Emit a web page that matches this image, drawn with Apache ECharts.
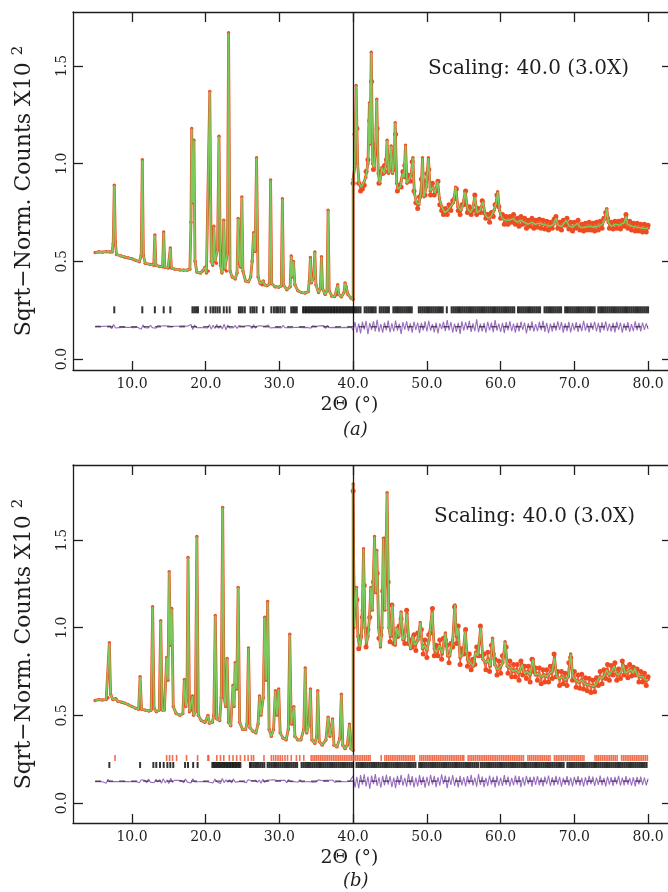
<!DOCTYPE html>
<html><head><meta charset="utf-8">
<script src="https://cdn.jsdelivr.net/npm/echarts@6/dist/echarts.min.js"></script>
<style>html,body{margin:0;padding:0;background:#fff}#c{width:668px;height:892px}</style>
</head><body><div id="c"></div>
<script>
// ---------- axis values ----------
const xTickValues = [10, 20, 30, 40, 50, 60, 70, 80];
const yTickValues = [0, 0.5, 1.0, 1.5];
const splitX = 40;
const scalingText = 'Scaling: 40.0 (3.0X)';

// ---------- panel (a) ----------
const profA_left = [[5.0,0.545],[5.5,0.549],[6.0,0.547],[6.5,0.55],[7.0,0.548],[7.3,0.548],[7.45,0.59],[7.6,0.89],[7.75,0.6],[7.9,0.535],[8.5,0.528],[9.0,0.522],[9.5,0.518],[10.0,0.513],[10.5,0.505],[11.0,0.498],[11.25,0.53],[11.4,1.02],[11.55,0.53],[11.8,0.49],[12.5,0.484],[12.95,0.48],[13.1,0.635],[13.25,0.48],[13.7,0.474],[14.15,0.472],[14.3,0.65],[14.45,0.47],[14.9,0.466],[15.05,0.468],[15.2,0.568],[15.35,0.466],[15.8,0.46],[16.5,0.456],[17.0,0.455],[17.5,0.455],[17.85,0.46],[18.0,0.7],[18.1,1.18],[18.25,0.8],[18.4,1.12],[18.55,0.5],[18.8,0.445],[19.3,0.44],[19.6,0.452],[19.9,0.47],[20.1,0.44],[20.35,0.45],[20.55,1.37],[20.75,0.5],[20.95,0.48],[21.1,0.68],[21.25,0.5],[21.45,0.49],[21.6,0.56],[21.8,1.14],[22.0,0.48],[22.2,0.44],[22.3,0.47],[22.45,0.71],[22.6,0.46],[22.8,0.45],[22.95,0.55],[23.1,1.67],[23.3,0.45],[23.6,0.42],[24.0,0.41],[24.25,0.44],[24.4,0.72],[24.55,0.5],[24.75,0.47],[24.9,0.83],[25.05,0.45],[25.4,0.40],[25.8,0.395],[26.1,0.42],[26.3,0.5],[26.5,0.646],[26.7,0.55],[26.9,1.03],[27.1,0.42],[27.4,0.385],[27.65,0.38],[27.8,0.40],[27.95,0.38],[28.3,0.375],[28.65,0.385],[28.8,0.916],[28.95,0.385],[29.4,0.37],[29.9,0.368],[30.25,0.375],[30.4,0.82],[30.55,0.38],[31.0,0.355],[31.45,0.37],[31.6,0.527],[31.75,0.42],[31.9,0.50],[32.1,0.38],[32.5,0.35],[33.0,0.34],[33.5,0.338],[33.9,0.345],[34.05,0.4],[34.2,0.52],[34.35,0.39],[34.65,0.42],[34.8,0.548],[34.95,0.38],[35.3,0.34],[35.55,0.36],[35.7,0.524],[35.85,0.36],[36.2,0.33],[36.45,0.35],[36.6,0.762],[36.75,0.35],[37.1,0.322],[37.5,0.32],[37.75,0.33],[37.9,0.38],[38.05,0.33],[38.4,0.318],[38.75,0.34],[38.9,0.39],[39.05,0.37],[39.3,0.33],[39.7,0.312],[40.0,0.305]];
const profA_right = [[40.0,0.92],[40.2,0.98],[40.4,1.40],[40.6,1.0],[40.8,0.9],[41.1,0.88],[41.4,0.9],[41.7,0.93],[42.0,1.0],[42.2,1.31],[42.3,1.1],[42.45,1.57],[42.65,1.0],[42.85,0.98],[43.05,1.1],[43.2,1.33],[43.4,0.95],[43.6,0.9],[43.9,0.98],[44.2,0.95],[44.45,1.0],[44.6,1.12],[44.8,0.95],[45.0,0.98],[45.15,1.09],[45.35,0.95],[45.55,1.0],[45.7,1.21],[45.9,0.9],[46.1,0.87],[46.4,0.88],[46.7,0.95],[46.9,0.93],[47.1,1.095],[47.3,0.9],[47.6,0.92],[47.9,0.95],[48.1,1.03],[48.3,0.85],[48.6,0.8],[48.9,0.79],[49.2,0.85],[49.4,1.03],[49.6,0.83],[49.9,0.88],[50.2,1.03],[50.45,0.86],[50.8,0.88],[51.1,0.85],[51.45,0.91],[51.7,0.82],[52.0,0.78],[52.4,0.75],[52.8,0.76],[53.2,0.78],[53.6,0.8],[53.9,0.88],[54.2,0.78],[54.6,0.76],[54.9,0.79],[55.2,0.856],[55.5,0.77],[55.9,0.75],[56.2,0.77],[56.5,0.83],[56.8,0.75],[57.2,0.76],[57.6,0.805],[57.9,0.74],[58.3,0.72],[58.7,0.73],[59.1,0.76],[59.4,0.8],[59.6,0.856],[59.85,0.76],[60.2,0.72],[60.7,0.71],[61.2,0.71],[61.7,0.72],[62.2,0.70],[62.7,0.71],[63.2,0.70],[63.7,0.69],[64.2,0.70],[64.7,0.69],[65.2,0.695],[65.7,0.69],[66.2,0.685],[66.7,0.68],[67.2,0.69],[67.5,0.72],[67.8,0.685],[68.3,0.68],[68.9,0.71],[69.3,0.68],[69.8,0.675],[70.4,0.695],[70.9,0.672],[71.5,0.675],[72.0,0.68],[72.6,0.675],[73.2,0.68],[73.8,0.69],[74.2,0.72],[74.4,0.77],[74.6,0.7],[75.0,0.68],[75.6,0.69],[76.2,0.685],[76.8,0.70],[77.0,0.73],[77.2,0.69],[77.8,0.68],[78.4,0.675],[79.0,0.672],[79.6,0.668],[80.0,0.67]];
// observed points right of the split, one every 0.25 deg from 40.0
const obsRightA = [0.90,1.15,1.18,0.90,0.86,0.87,0.89,0.96,1.02,1.22,1.42,0.97,1.05,1.18,0.90,0.96,0.95,0.99,1.02,0.96,
1.0,1.0,0.97,1.15,0.86,0.89,0.88,0.96,0.99,0.93,0.94,0.91,1.01,0.86,0.80,0.77,0.83,0.92,0.91,0.84,
0.95,0.97,0.84,0.90,0.84,0.86,0.91,0.79,0.76,0.74,0.77,0.74,0.79,0.76,0.81,0.82,0.87,0.76,0.74,0.79,
0.79,0.86,0.75,0.78,0.74,0.76,0.84,0.74,0.77,0.75,0.81,0.75,0.72,0.74,0.70,0.75,0.73,0.79,0.84,0.78,
0.72,0.74,0.69,0.73,0.69,0.73,0.70,0.74,0.69,0.72,0.68,0.73,0.69,0.72,0.67,0.71,0.68,0.72,0.67,0.71,
0.675,0.715,0.67,0.71,0.665,0.705,0.66,0.70,0.67,0.715,0.73,0.67,0.70,0.66,0.71,0.685,0.72,0.665,0.70,0.655,
0.70,0.67,0.71,0.66,0.69,0.655,0.695,0.66,0.70,0.66,0.695,0.655,0.70,0.66,0.705,0.67,0.72,0.75,0.72,0.67,
0.70,0.665,0.705,0.67,0.705,0.665,0.71,0.68,0.74,0.67,0.705,0.66,0.695,0.655,0.695,0.655,0.69,0.65,0.69,0.65,
0.685];
// difference curve, thousandths, one every 0.25 deg from 5.0
const diffA = [3,-2,4,-3,2,-4,3,-2,5,-10,12,-6,3,-4,2,-3,4,-2,3,-3,
2,-4,3,-2,4,-12,10,-5,3,-6,8,-4,3,-7,6,-3,4,-6,5,-3,
4,-3,2,-4,3,-2,4,-3,5,-4,3,-2,12,-14,9,-5,3,-4,6,-5,
4,-6,11,-12,8,-9,12,-8,6,-11,13,-15,9,-6,4,-5,7,-8,6,-4,
3,-4,5,-3,6,-8,10,-7,4,-3,5,-4,3,-7,9,-6,3,-4,2,-3,
4,-6,8,-5,3,-4,6,-5,3,-2,4,-3,2,-4,5,-3,6,-7,5,-4,
3,-4,5,-3,6,-9,8,-5,4,-3,2,-4,3,-5,4,-3,5,-4,3,-2,
-18,24,-30,16,-34,26,-14,30,-38,20,-16,28,-24,36,-26,14,-30,22,-18,32,
-28,18,-24,32,-20,16,-36,24,-14,28,-22,18,-30,26,-16,22,-32,20,-18,28,
-24,30,-20,14,-28,22,-34,18,-12,26,-22,34,-18,24,-30,16,-26,20,-36,28,
-20,24,-16,30,-26,18,-22,38,-28,16,-24,20,-30,26,-18,22,-28,34,-20,16,
-26,20,-32,24,-18,28,-22,16,-30,20,-24,26,-16,22,-34,18,-20,28,-24,14,
-22,26,-18,30,-26,20,-32,16,-24,22,-20,28,-16,24,-30,18,-22,26,-28,20,
-18,24,-26,16,-22,30,-20,18,-28,22,-16,26,-24,20,-30,24,-18,28,-22,16,
-24,20,-28,26,-16,22,-30,18,-20,24,-26,14,-22,28,-18,20,-24,22,-16,18,
-12];
const diffOffsetA = 0.165;
const tickLevelA = 0.252;
const ticksA = [7.6,11.4,13.1,14.3,15.2,18.2,18.45,18.7,18.95,20.0,20.65,21.0,21.3,21.6,21.9,22.45,22.85,23.25,24.5,24.75,25.0,25.3,26.07,26.35,26.6,26.9,27.8,28.9,29.25,29.55,29.8,30.1,30.4,30.7,31.6,31.85,32.1,32.35,33.2,33.4,33.6,33.8,34.0,34.2,34.4,34.6,34.8,35.0,35.2,35.4,35.6,35.8,36.0,36.2,36.4,36.6,36.8,37.0,37.2,37.4,37.6,37.8,38.0,38.2,38.4,38.6,38.8,39.0,39.2,39.4,39.6,39.8,40.0,
40.25,40.5,40.75,41.0,41.55,41.8,42.05,42.3,42.55,42.8,43.05,43.6,43.85,44.1,44.35,44.6,44.85,45.45,45.7,45.95,46.2,46.45,46.7,46.95,47.2,47.45,47.7,47.95,48.9,49.15,49.4,49.65,49.9,50.15,50.4,50.65,50.9,51.15,51.4,51.65,51.9,52.15,52.7,53.35,53.6,53.85,54.1,54.35,54.6,54.85,55.1,55.35,55.6,55.85,56.1,56.35,56.6,56.85,57.1,57.35,57.6,57.85,58.1,58.35,58.6,58.85,59.1,59.35,59.6,59.85,60.1,60.35,60.6,60.85,61.1,61.35,61.6,61.85,62.35,62.6,62.85,63.1,63.35,63.6,63.85,64.1,64.35,64.6,64.85,65.1,65.35,65.95,66.2,66.45,66.7,66.95,67.2,67.45,67.7,67.95,68.2,68.75,69.0,69.25,69.5,69.75,70.0,70.25,70.5,70.75,71.0,71.25,71.5,71.75,72.0,72.25,72.5,72.75,73.25,73.5,73.75,74.0,74.25,74.5,74.75,75.0,75.25,75.5,75.75,76.0,76.25,76.5,76.75,77.0,77.25,77.5,77.75,78.0,78.25,78.5,78.75,79.0,79.25,79.5,79.75,80.0];

// ---------- panel (b) ----------
const profB_left = [[5.0,0.585],[5.5,0.59],[6.0,0.588],[6.5,0.59],[6.75,0.60],[6.93,0.914],[7.1,0.62],[7.4,0.59],[7.8,0.595],[8.1,0.58],[8.6,0.575],[9.0,0.57],[9.5,0.56],[10.0,0.55],[10.5,0.54],[10.9,0.535],[11.1,0.72],[11.3,0.535],[11.8,0.53],[12.3,0.525],[12.6,0.53],[12.8,1.12],[13.0,0.54],[13.3,0.52],[13.7,0.53],[13.9,1.04],[14.1,0.53],[14.4,0.53],[14.7,0.83],[14.88,0.7],[15.05,1.32],[15.2,0.9],[15.4,1.11],[15.6,0.55],[16.0,0.51],[16.5,0.5],[16.9,0.51],[17.1,0.705],[17.3,0.55],[17.45,0.6],[17.6,1.40],[17.8,0.52],[18.05,0.53],[18.2,0.61],[18.35,0.5],[18.6,0.52],[18.8,1.52],[19.0,0.5],[19.4,0.47],[19.9,0.46],[20.3,0.5],[20.5,0.455],[20.9,0.46],[21.1,0.5],[21.3,1.07],[21.5,0.48],[21.9,0.47],[22.1,0.6],[22.3,1.686],[22.5,0.6],[22.7,0.55],[22.9,0.825],[23.1,0.46],[23.4,0.44],[23.7,0.67],[23.85,0.55],[24.0,0.8],[24.2,0.65],[24.4,1.23],[24.6,0.46],[25.0,0.42],[25.4,0.42],[25.6,0.45],[25.8,0.885],[26.0,0.43],[26.4,0.41],[26.8,0.40],[27.1,0.45],[27.3,0.61],[27.5,0.5],[27.8,0.6],[28.0,1.06],[28.2,0.7],[28.4,1.15],[28.6,0.42],[28.9,0.38],[29.2,0.42],[29.45,0.64],[29.65,0.5],[29.9,0.65],[30.1,0.4],[30.5,0.37],[30.9,0.36],[31.2,0.42],[31.4,0.963],[31.6,0.45],[31.8,0.45],[31.95,0.55],[32.1,0.38],[32.5,0.36],[32.9,0.36],[33.3,0.42],[33.5,0.77],[33.7,0.4],[34.0,0.45],[34.2,0.65],[34.4,0.36],[34.8,0.34],[35.05,0.38],[35.2,0.64],[35.4,0.35],[35.8,0.33],[36.3,0.36],[36.6,0.49],[36.85,0.38],[37.2,0.48],[37.4,0.33],[37.8,0.32],[38.2,0.37],[38.4,0.62],[38.6,0.33],[38.9,0.31],[39.2,0.33],[39.5,0.45],[39.7,0.31],[40.0,0.30]];
const profB_right = [[40.0,1.82],[40.1,1.0],[40.25,1.15],[40.45,1.23],[40.65,0.95],[40.9,0.89],[41.1,0.95],[41.25,1.1],[41.4,1.45],[41.6,1.0],[41.8,0.91],[42.0,0.95],[42.2,1.05],[42.4,1.23],[42.6,1.1],[42.9,1.52],[43.05,1.2],[43.2,1.44],[43.45,1.0],[43.7,0.89],[43.9,1.0],[44.1,1.51],[44.3,1.1],[44.6,1.77],[44.85,1.0],[45.05,0.95],[45.3,1.13],[45.5,0.95],[45.7,0.9],[45.95,1.0],[46.2,0.95],[46.5,1.09],[46.75,0.93],[47.0,0.95],[47.3,1.08],[47.55,0.92],[47.8,0.88],[48.1,0.95],[48.4,0.9],[48.8,0.93],[49.1,1.03],[49.4,0.88],[49.7,0.9],[50.0,0.87],[50.3,0.93],[50.7,1.09],[51.0,0.88],[51.3,0.86],[51.7,0.9],[52.1,0.85],[52.5,0.97],[52.8,0.84],[53.1,0.84],[53.5,0.93],[53.8,1.13],[54.0,0.95],[54.2,1.0],[54.5,0.83],[54.9,0.85],[55.2,0.98],[55.5,0.82],[55.9,0.8],[56.3,0.78],[56.6,0.86],[56.9,0.84],[57.3,1.0],[57.6,0.82],[58.0,0.8],[58.3,0.82],[58.6,0.78],[58.9,0.94],[59.2,0.79],[59.6,0.76],[60.0,0.78],[60.3,0.8],[60.6,0.92],[60.9,0.78],[61.3,0.77],[61.7,0.75],[62.1,0.76],[62.5,0.74],[62.9,0.79],[63.2,0.74],[63.6,0.75],[64.0,0.73],[64.4,0.82],[64.7,0.73],[65.1,0.74],[65.5,0.72],[65.9,0.73],[66.3,0.72],[66.7,0.74],[67.0,0.75],[67.3,0.83],[67.6,0.72],[68.0,0.71],[68.4,0.72],[68.8,0.7],[69.2,0.72],[69.5,0.85],[69.8,0.72],[70.2,0.7],[70.6,0.69],[71.0,0.7],[71.4,0.68],[71.8,0.675],[72.2,0.67],[72.6,0.665],[73.0,0.68],[73.4,0.72],[73.8,0.71],[74.1,0.73],[74.4,0.76],[74.7,0.73],[75.0,0.75],[75.4,0.78],[75.7,0.74],[76.0,0.73],[76.3,0.75],[76.6,0.79],[76.9,0.74],[77.3,0.75],[77.7,0.76],[78.0,0.74],[78.2,0.77],[78.5,0.73],[78.9,0.72],[79.3,0.72],[79.7,0.70],[80.0,0.705]];
const obsRightB = [1.78,1.17,1.16,0.88,0.95,1.06,1.24,0.89,0.99,1.06,1.21,1.26,1.34,1.31,0.94,0.96,1.21,1.24,1.51,1.26,
0.92,1.13,0.91,0.96,0.95,1.01,1.05,0.97,0.91,1.10,0.91,0.93,0.89,0.96,0.87,0.97,0.96,0.99,0.85,0.93,
0.83,0.96,0.97,1.11,0.84,0.90,0.84,0.93,0.82,0.94,0.93,0.90,0.80,0.91,0.89,1.12,0.91,1.01,0.79,0.88,
0.85,0.99,0.78,0.85,0.76,0.82,0.79,0.89,0.84,1.01,0.84,0.85,0.76,0.86,0.75,0.90,0.85,0.82,0.73,0.81,
0.74,0.84,0.84,0.89,0.74,0.81,0.72,0.79,0.72,0.79,0.70,0.81,0.73,0.78,0.71,0.78,0.69,0.82,0.75,0.77,
0.70,0.77,0.68,0.76,0.69,0.76,0.69,0.78,0.71,0.85,0.72,0.75,0.67,0.75,0.68,0.74,0.67,0.80,0.83,0.70,
0.75,0.66,0.73,0.655,0.735,0.65,0.715,0.64,0.71,0.63,0.70,0.635,0.715,0.67,0.75,0.68,0.76,0.71,0.79,0.70,
0.785,0.73,0.80,0.70,0.765,0.71,0.81,0.73,0.775,0.715,0.79,0.725,0.775,0.73,0.765,0.69,0.75,0.69,0.74,0.67,
0.72];
const diffB = [-3,4,-2,3,-4,2,-12,10,-4,3,-2,4,-3,2,-4,3,-2,4,-3,2,
-4,3,-2,5,-9,8,-3,4,-10,12,-6,4,-9,10,-5,8,-12,14,-10,6,
-14,16,-8,4,-3,5,-4,3,-10,12,-6,4,-11,13,-5,3,-4,2,-3,4,
-2,5,-7,4,-10,12,-4,6,-14,15,-9,7,-6,8,-11,12,-6,4,-3,5,
-4,6,-9,8,-3,2,-4,5,-7,6,-12,11,-8,4,-3,6,-5,7,-4,3,
-2,4,-3,5,-10,9,-4,3,-2,4,-7,8,-5,6,-4,3,-2,5,-6,4,
-5,7,-4,3,-2,4,-3,5,-4,6,-7,3,-2,4,-3,5,-4,3,-2,4,
30,-36,24,-42,34,-20,38,-30,26,-44,32,-18,40,-28,22,-38,30,-24,36,-20,
28,-34,20,-40,30,-22,36,-26,18,-32,42,-24,28,-36,20,-30,34,-22,26,-38,
24,-28,36,-20,30,-34,22,-26,38,-18,32,-40,26,-22,34,-28,20,-36,30,-24,
22,-30,28,-18,36,-26,20,-32,40,-22,26,-34,18,-28,32,-20,24,-36,30,-26,
20,-28,34,-22,26,-30,18,-24,32,-20,28,-34,22,-26,30,-18,24,-32,26,-22,
28,-24,20,-30,26,-18,32,-28,22,-26,30,-20,24,-32,18,-22,28,-26,20,-30,
24,-20,28,-26,18,-32,22,-24,30,-18,26,-28,20,-22,32,-24,18,-30,26,-20,
22,-28,24,-18,30,-26,20,-24,28,-20,18,-26,22,-30,24,-18,26,-22,20,-24,
14];
const diffOffsetB = 0.125;
const tickLevelB1 = 0.257; // second phase (red)
const tickLevelB2 = 0.217; // first phase (black)
const ticksB_red = [7.7,14.7,15.1,15.5,16.05,17.4,18.9,20.3,20.4,21.5,22.0,22.45,23.2,23.7,24.2,24.7,25.3,25.75,26.2,26.5,27.9,28.9,29.2,29.5,29.8,30.1,30.4,30.75,31.1,31.6,32.3,32.75,33.3,34.3,34.55,34.8,35.05,35.3,35.55,35.8,36.05,36.3,36.55,36.8,37.05,37.3,37.55,37.8,38.05,38.3,38.55,38.8,39.05,39.3,39.55,39.8,
40.05,40.3,40.55,40.8,41.05,41.3,41.55,41.8,42.05,42.3,43.8,44.3,44.55,44.8,45.05,45.3,45.55,45.8,46.05,46.3,46.55,46.8,47.05,47.3,47.55,47.8,48.05,48.3,49.05,49.3,49.55,49.8,50.05,50.3,50.55,50.8,51.05,51.3,51.55,51.8,52.05,52.3,52.55,52.8,53.05,53.3,53.55,53.8,54.05,54.3,54.55,54.8,55.0,55.6,55.85,56.1,56.35,56.6,56.85,57.1,57.35,57.6,57.85,58.1,58.35,58.6,58.85,59.1,59.35,59.6,59.85,60.1,60.35,60.6,60.85,61.1,61.35,61.6,61.85,62.1,62.35,62.6,62.85,63.1,63.7,63.95,64.2,64.45,64.7,64.95,65.2,65.45,65.7,65.95,66.2,66.45,66.7,67.3,67.55,67.8,68.05,68.3,68.55,68.8,69.05,69.3,69.55,69.8,70.05,70.3,70.55,70.8,71.05,71.3,72.8,73.05,73.3,73.55,73.8,74.05,74.3,74.55,74.8,75.05,75.3,75.55,75.8,76.4,76.65,76.9,77.15,77.4,77.65,77.9,78.15,78.4,78.65,78.9,79.15,79.4,79.65,79.9];
const ticksB_black = [6.93,11.1,12.9,13.3,13.8,14.3,14.8,15.2,15.6,17.2,17.6,18.3,18.9,20.9,21.1,21.3,21.5,21.7,21.9,22.1,22.3,22.5,22.7,22.9,23.1,23.3,23.5,23.7,23.9,24.1,24.3,24.5,24.7,26.0,26.2,26.45,26.7,26.95,27.2,27.45,27.7,27.95,28.4,28.65,28.9,29.15,29.4,29.65,29.9,30.15,30.4,30.65,30.9,31.15,31.4,31.65,31.9,32.15,32.4,33.0,33.25,33.5,33.75,34.0,34.25,34.5,34.75,35.0,35.25,35.5,35.75,36.0,36.25,36.5,36.75,37.0,37.25,37.5,37.75,38.0,38.25,38.5,38.75,39.0,39.25,39.5,39.75,
40.0,40.45,40.7,40.95,41.2,41.45,41.7,41.95,42.2,42.45,42.7,42.95,43.2,43.45,43.7,43.95,44.2,44.45,44.7,44.95,45.2,45.45,45.7,45.95,46.2,46.45,46.7,46.95,47.2,47.45,47.7,47.95,48.2,48.45,48.95,49.2,49.45,49.7,49.95,50.2,50.45,50.7,50.95,51.2,51.45,51.7,51.95,52.2,52.45,52.7,52.95,53.2,53.45,53.7,53.95,54.2,54.45,54.7,54.95,55.2,55.45,55.7,55.95,56.2,56.45,56.7,56.95,57.3,57.55,57.8,58.05,58.3,58.55,58.8,59.05,59.3,59.55,59.8,60.05,60.3,60.55,60.8,61.05,61.3,61.55,61.8,62.05,62.3,62.55,62.8,63.05,63.3,63.55,63.8,64.05,64.3,64.55,64.8,65.05,65.3,65.55,65.8,66.05,66.3,66.55,66.8,67.05,67.3,67.55,67.8,68.05,68.3,68.55,69.05,69.3,69.55,69.8,70.05,70.3,70.55,70.8,71.05,71.3,71.55,71.8,72.05,72.3,72.55,72.8,73.05,73.3,73.55,73.8,74.05,74.3,74.55,74.8,75.05,75.3,75.55,75.8,76.05,76.3,76.55,76.8,77.05,77.3,77.55,77.8,78.05,78.3,78.55,78.8,79.05,79.3,79.55,79.8];

// sampling of the regularly spaced arrays
const obsStart = 40, obsStep = 0.25;
const diffStart = 5, diffStep = 0.25, diffEnd = 80;

// ---------- styling ----------
const FONT = 'DejaVu Serif';
const INK = '#1e1e1e';
const RED = '#ef4b22';
const GREEN = '#7cca5c';
const PURPLE = '#9a6cc2';

const X_MIN = 2.0, X_MAX = 82.7;
const Y_A = [-0.056, 1.776];
const Y_B = [-0.114, 1.928];

function xAxesFor(gi) {
  const line = {show: true, onZero: false, lineStyle: {color: INK, width: 1.3}};
  return [
    {type: 'value', gridIndex: gi, position: 'bottom', min: X_MIN, max: X_MAX,
     splitLine: {show: false}, axisLine: line,
     axisTick: {show: true, inside: true, length: 9, customValues: xTickValues, lineStyle: {color: INK, width: 1.3}},
     axisLabel: {show: true, customValues: xTickValues, formatter: v => v.toFixed(1), fontFamily: FONT, fontSize: 14, color: INK, margin: 7},
     name: '2\u0398 (\u00b0)', nameLocation: 'middle', nameGap: 26,
     nameTextStyle: {fontFamily: FONT, fontSize: 19, color: INK, padding: [0, 42, 0, 0]}},
    {type: 'value', gridIndex: gi, position: 'top', min: X_MIN, max: X_MAX,
     splitLine: {show: false}, axisLine: line,
     axisTick: {show: true, inside: true, length: 10, customValues: xTickValues, lineStyle: {color: INK, width: 1.3}},
     axisLabel: {show: false}}
  ];
}
function yAxesFor(gi, rng) {
  const line = {show: true, onZero: false, lineStyle: {color: INK, width: 1.3}};
  return [
    {type: 'value', gridIndex: gi, position: 'left', min: rng[0], max: rng[1],
     splitLine: {show: false}, axisLine: line,
     axisTick: {show: true, inside: true, length: 10, customValues: yTickValues, lineStyle: {color: INK, width: 1.3}},
     axisLabel: {show: true, customValues: yTickValues, rotate: 90, formatter: v => v.toFixed(1), fontFamily: FONT, fontSize: 14, color: INK, margin: 4},
     name: 'Sqrt\u2212Norm. Counts X10 {s|2}', nameLocation: 'middle', nameGap: 36,
     nameTextStyle: {fontFamily: FONT, fontSize: 22, color: INK, lineHeight: 26,
       rich: {s: {fontFamily: FONT, fontSize: 15, color: INK, verticalAlign: 'top', lineHeight: 26}}}},
    {type: 'value', gridIndex: gi, position: 'right', min: rng[0], max: rng[1],
     splitLine: {show: false}, axisLine: {show: false},
     axisTick: {show: true, inside: true, length: 6, customValues: yTickValues, lineStyle: {color: INK, width: 1.3}},
     axisLabel: {show: false}}
  ];
}

function panelSeries(xi, yi, profL, profR, obsR, diff, diffOff, tickSets) {
  const prof = profL.concat(profR);
  const obsPts = obsR.map((v, i) => [obsStart + i * obsStep, v]);
  const diffPts = diff.map((v, i) => [diffStart + i * diffStep, diffOff + v / 1000]);
  const base = {xAxisIndex: xi, yAxisIndex: yi, silent: true, animation: false};
  const out = [
    Object.assign({}, base, {type: 'line', data: prof, showSymbol: true, symbol: 'circle', symbolSize: 3.4,
      itemStyle: {color: RED}, lineStyle: {color: RED, width: 2.8}, z: 2}),
    Object.assign({}, base, {type: 'line', data: obsPts, showSymbol: true, symbol: 'circle', symbolSize: 5,
      itemStyle: {color: RED}, lineStyle: {color: RED, width: 1.4, opacity: 0.85}, z: 3}),
    Object.assign({}, base, {type: 'line', data: prof, showSymbol: false,
      lineStyle: {color: GREEN, width: 1.6}, z: 4,
      markLine: {silent: true, symbol: 'none', label: {show: false}, animation: false,
        lineStyle: {color: INK, width: 1.3, type: 'solid'}, data: [{xAxis: splitX}]}}),
    Object.assign({}, base, {type: 'line', data: diffPts, showSymbol: false,
      lineStyle: {color: PURPLE, width: 1.1}, z: 4}),
    Object.assign({}, base, {type: 'line', data: [[diffStart, diffOff], [diffEnd, diffOff]], showSymbol: false,
      lineStyle: {color: INK, width: 1, type: [6, 6]}, z: 5})
  ];
  tickSets.forEach(t => {
    out.push(Object.assign({}, base, {type: 'scatter', data: t.pos.map(x => [x, t.level]), symbol: 'rect',
      symbolSize: [t.w, t.h], itemStyle: {color: t.color}, z: 5}));
  });
  return out;
}

const chart = echarts.init(document.getElementById('c'), null, {renderer: 'canvas'});
chart.setOption({
  animation: false,
  backgroundColor: '#ffffff',
  grid: [
    {left: 73, top: 12, width: 596, height: 358},
    {left: 73, top: 465, width: 596, height: 358}
  ],
  xAxis: xAxesFor(0).concat(xAxesFor(1)),
  yAxis: yAxesFor(0, Y_A).concat(yAxesFor(1, Y_B)),
  series: panelSeries(0, 0, profA_left, profA_right, obsRightA, diffA, diffOffsetA,
            [{pos: ticksA, level: tickLevelA, color: '#000', w: 2, h: 7}])
    .concat(panelSeries(2, 2, profB_left, profB_right, obsRightB, diffB, diffOffsetB,
            [{pos: ticksB_red, level: tickLevelB1, color: RED, w: 1.6, h: 6},
             {pos: ticksB_black, level: tickLevelB2, color: '#000', w: 2, h: 6}])),
  graphic: [
    {type: 'text', left: 428, top: 59, silent: true, style: {text: scalingText, font: '20px "DejaVu Serif"', fill: INK}},
    {type: 'text', left: 434, top: 507, silent: true, style: {text: scalingText, font: '20px "DejaVu Serif"', fill: INK}},
    {type: 'text', left: 343, top: 421, silent: true, style: {text: '(a)', font: 'italic 18px "DejaVu Serif"', fill: INK}},
    {type: 'text', left: 343, top: 872, silent: true, style: {text: '(b)', font: 'italic 18px "DejaVu Serif"', fill: INK}}
  ]
});
</script></body></html>
